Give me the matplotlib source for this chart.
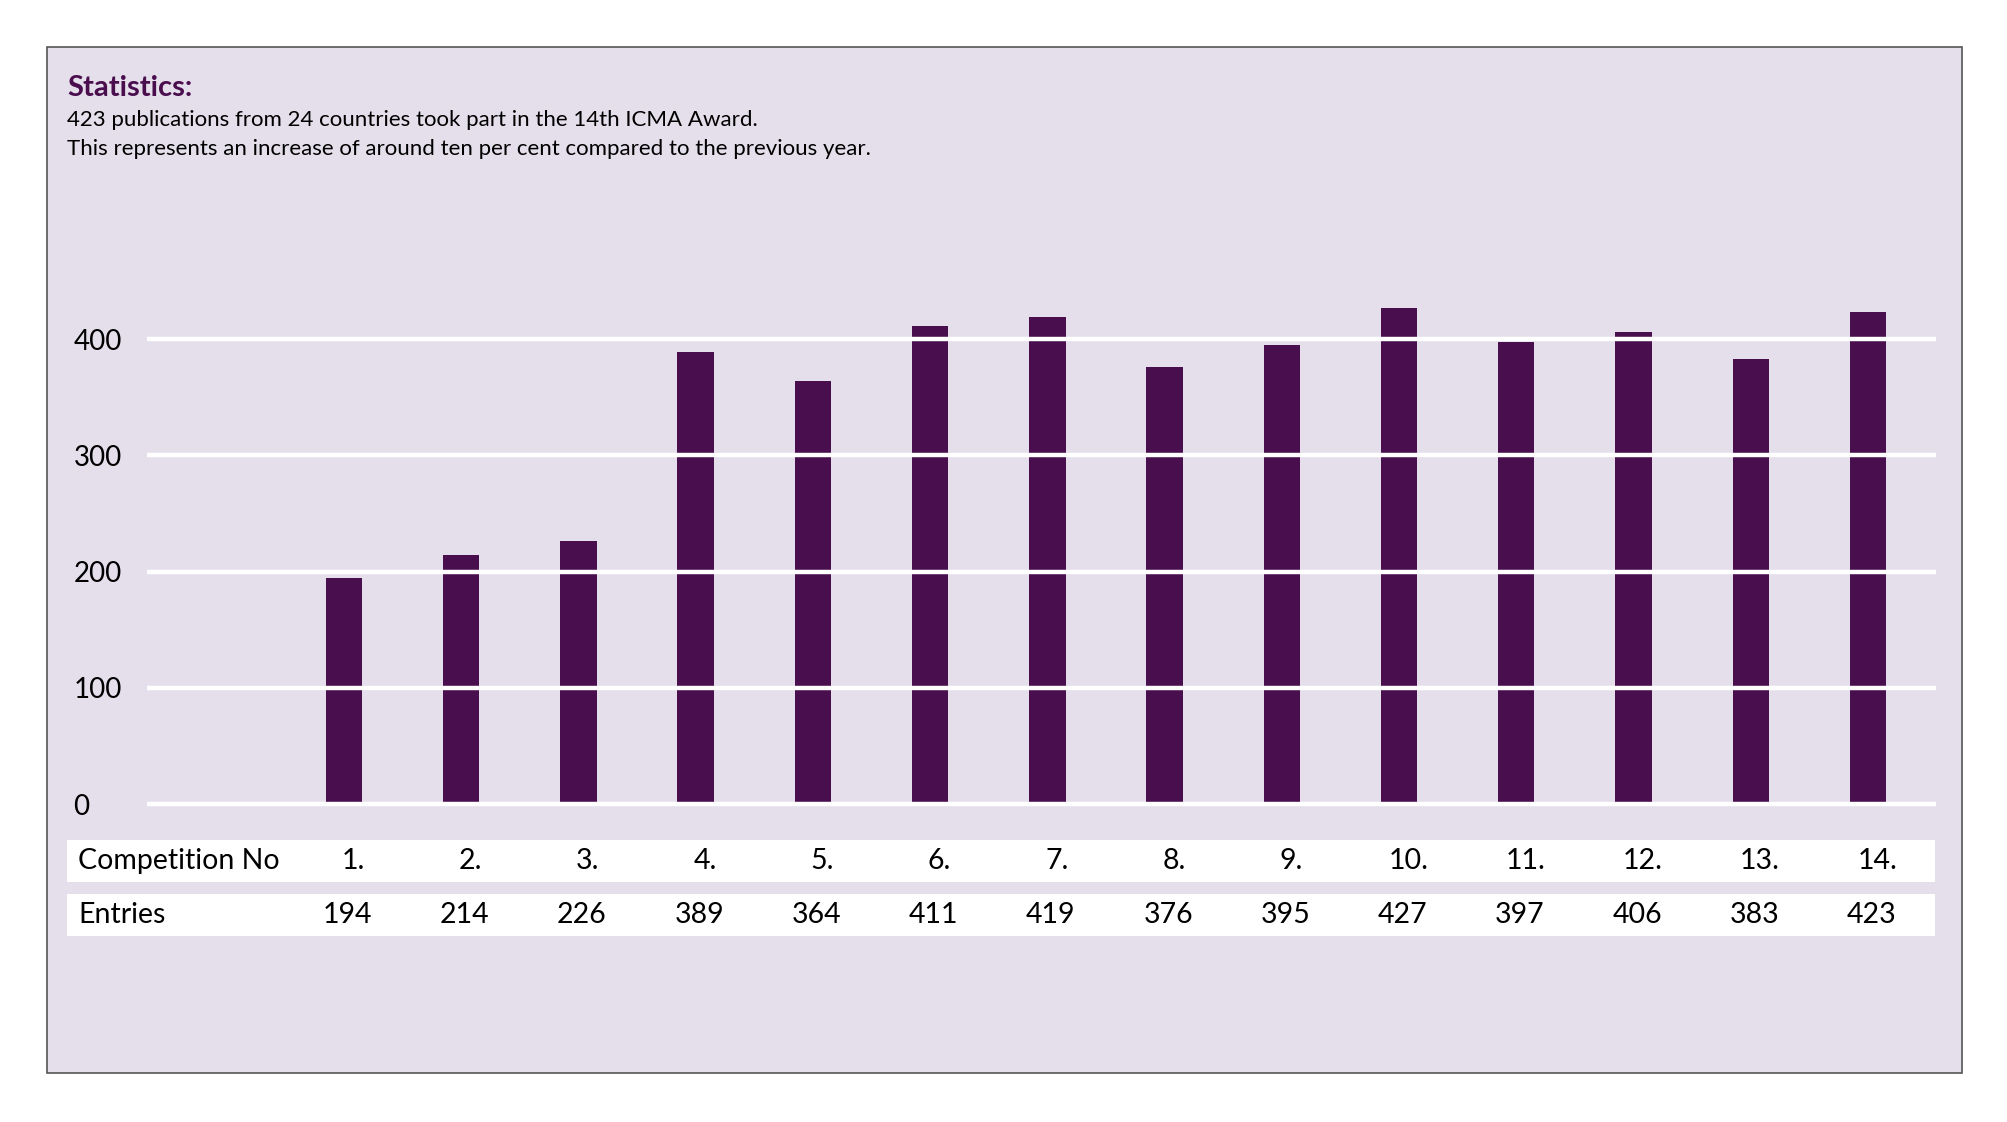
import numpy as np
import matplotlib.pyplot as plt
from matplotlib.patches import Rectangle
from matplotlib.transforms import blended_transform_factory

# data
competitions = ['1.', '2.', '3.', '4.', '5.', '6.', '7.', '8.', '9.', '10.', '11.', '12.', '13.', '14.']
entries = [194, 214, 226, 389, 364, 411, 419, 376, 395, 427, 397, 406, 383, 423]
y_ticks = [0, 100, 200, 300, 400]

title = 'Statistics:'
subtitle_1 = '423 publications from 24 countries took part in the 14th ICMA Award.'
subtitle_2 = 'This represents an increase of around ten per cent compared to the previous year.'

bg = '#E5DFEB'
bar_color = '#490E4D'
font = 'Lato'

fig = plt.figure(figsize=(20.08, 11.22), dpi=100)
W, H = 2008, 1122

# background panel with border
fig.patches.append(Rectangle((47 / W, 1 - 1073 / H), (1962 - 47) / W, (1073 - 47) / H,
                             transform=fig.transFigure, facecolor=bg, edgecolor='#555555',
                             linewidth=1.2, zorder=-2))

# title and text
fig.text(67 / W, 1 - 88 / H, title, fontsize=21, fontweight='bold', color='#4A0E4E',
         family=font, va='center', ha='left')
fig.text(67 / W, 1 - 120 / H, subtitle_1, fontsize=16, color='black', family=font,
         va='center', ha='left')
fig.text(67 / W, 1 - 149 / H, subtitle_2, fontsize=16, color='black', family=font,
         va='center', ha='left')

# table rows below the chart
fig.patches.append(Rectangle((67 / W, 1 - 882 / H), (1935 - 67) / W, 42 / H,
                             transform=fig.transFigure, facecolor='white', edgecolor='none', zorder=-1))
fig.patches.append(Rectangle((67 / W, 1 - 936 / H), (1935 - 67) / W, 42 / H,
                             transform=fig.transFigure, facecolor='white', edgecolor='none', zorder=-1))

# chart
ax = fig.add_axes([147 / W, 1 - 811 / H, (1936 - 147) / W, (811 - 246) / H])
ax.set_zorder(5)
ax.set_facecolor('none')
x = np.arange(1, len(entries) + 1)
ax.bar(x, entries, width=0.31, color=bar_color, zorder=2)
ax.set_xlim(-0.68, 14.58)
ax.set_ylim(-6, 480)
for t in y_ticks:
    ax.axhline(t, color='white', linewidth=3.2, zorder=3)
ax.set_yticks(y_ticks)
ax.set_yticklabels([str(t) for t in y_ticks], ha='left', fontsize=20, family=font)
ax.tick_params(axis='y', length=0, pad=53)
ax.set_xticks([])
for s in ax.spines.values():
    s.set_visible(False)

trans = blended_transform_factory(ax.transData, fig.transFigure)
fig.text(78 / W, 1 - 861 / H, 'Competition No', fontsize=20.5, family=font, va='center', ha='left')
fig.text(78 / W, 1 - 915 / H, 'Entries', fontsize=20.5, family=font, va='center', ha='left')
for xi, c, e in zip(x, competitions, entries):
    ax.text(xi + 0.08, 1 - 861 / H, c, transform=trans, fontsize=20.5, family=font,
            va='center', ha='center', clip_on=False)
    ax.text(xi + 0.03, 1 - 915 / H, str(e), transform=trans, fontsize=20.5, family=font,
            va='center', ha='center', clip_on=False)

plt.savefig('out.png', dpi=100, facecolor='white')
